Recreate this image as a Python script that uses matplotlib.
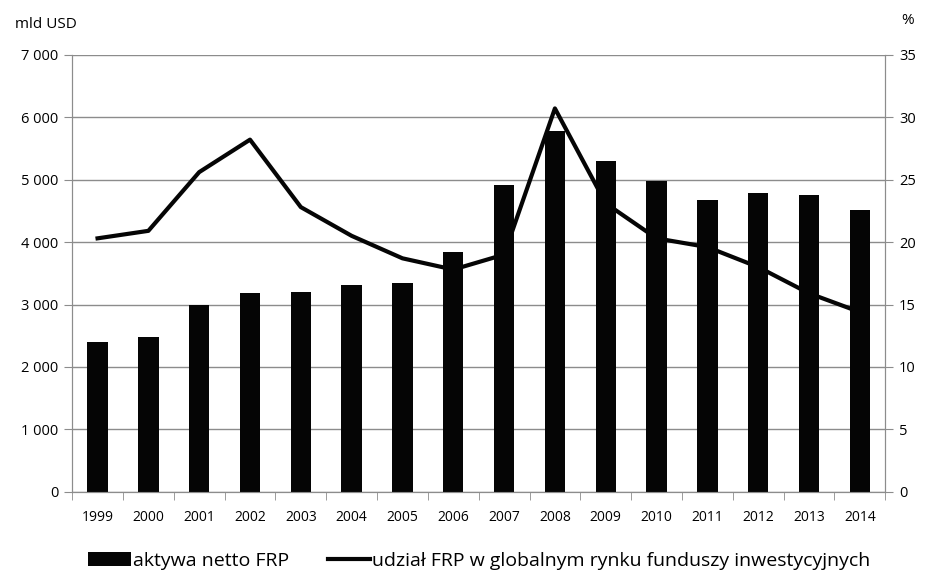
import matplotlib
matplotlib.use("Agg")
import matplotlib.pyplot as plt
from matplotlib.ticker import FuncFormatter, MultipleLocator
import numpy as np

years = ["1999", "2000", "2001", "2002", "2003", "2004", "2005", "2006",
         "2007", "2008", "2009", "2010", "2011", "2012", "2013", "2014"]
assets = [2400, 2480, 3000, 3180, 3200, 3310, 3340, 3840,
          4920, 5780, 5300, 4980, 4680, 4790, 4760, 4520]
share = [20.3, 20.9, 25.6, 28.2, 22.8, 20.5, 18.7, 17.8,
         19.0, 30.7, 23.1, 20.3, 19.6, 18.0, 15.9, 14.4]

bar_label = "aktywa netto FRP"
line_label = "udział FRP w globalnym rynku funduszy inwestycyjnych"

plt.rcParams['font.family'] = ['Open Sans', 'DejaVu Sans']
fig = plt.figure(figsize=(9.25, 5.76), dpi=100)
ax = fig.add_axes([0.078, 0.146, 0.879, 0.759])
ax2 = ax.twinx()

x = np.arange(len(years))
bars = ax.bar(x, assets, width=0.4, color="#050505", zorder=3, label=bar_label)
line, = ax2.plot(x, share, color="#050505", lw=3, zorder=4, label=line_label)

ax.set_xlim(-0.5, len(years) - 0.5)
ax.set_ylim(0, 7000)
ax2.set_ylim(0, 35)
ax.yaxis.set_major_locator(MultipleLocator(1000))
ax2.yaxis.set_major_locator(MultipleLocator(5))
ax.yaxis.set_major_formatter(FuncFormatter(lambda v, p: f"{int(v):,}".replace(",", " ")))

ax.grid(axis="y", color="#8c8c8c", lw=1, zorder=0)
ax.set_axisbelow(True)

gray = "#8c8c8c"
for a in (ax, ax2):
    a.spines["top"].set_visible(False)
    for s in ("left", "right", "bottom"):
        a.spines[s].set_color(gray)
ax.set_xticks(x)
ax.set_xticklabels(years)
ax.tick_params(axis="x", length=0, labelsize=10, pad=13)
ax.set_xticks(np.arange(-0.5, len(years)), minor=True)
ax.tick_params(axis="x", which="minor", length=6, color=gray)
ax.tick_params(axis="y", length=6, color=gray, labelsize=10.5, pad=4)
ax2.tick_params(axis="y", length=6, color=gray, labelsize=10.5, pad=4)

fig.text(0.016, 0.958, "mld USD", fontsize=11, ha="left", va="center")
fig.text(0.974, 0.964, "%", fontsize=11, ha="left", va="center")

fig.legend([bars, line], [bar_label, line_label], loc="lower center",
           bbox_to_anchor=(0.518, -0.02), ncol=2, frameon=False,
           fontsize=14, handlelength=2.2, handletextpad=0.1,
           columnspacing=2.0)

fig.savefig("out.png", dpi=100)
